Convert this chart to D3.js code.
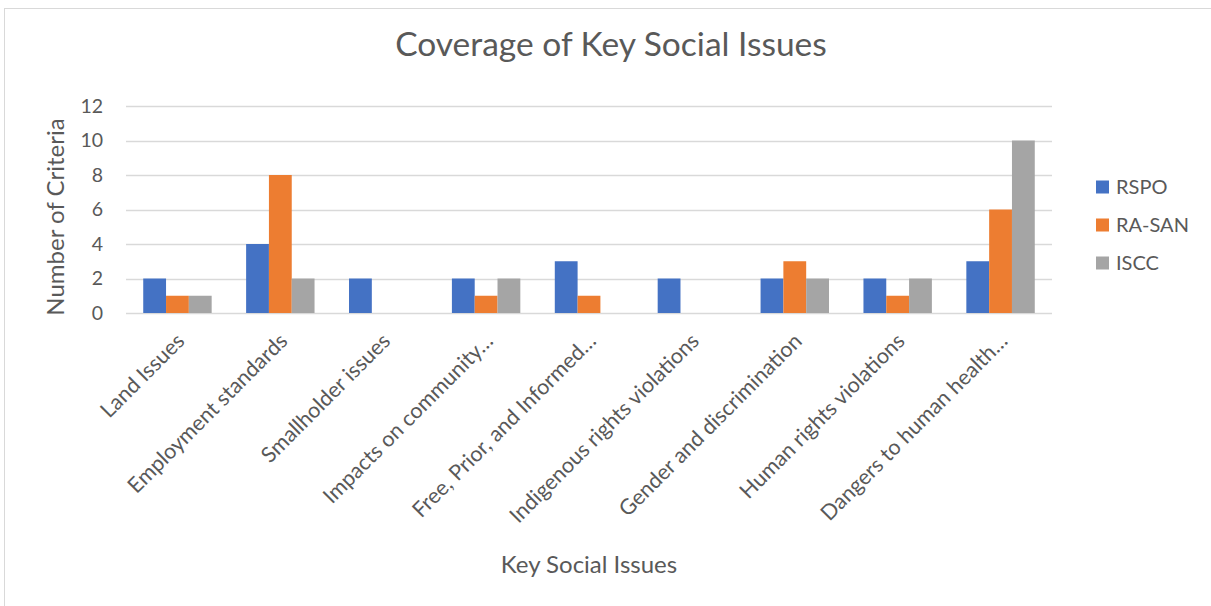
<!DOCTYPE html>
<html>
<head>
<meta charset="utf-8">
<script src="https://cdn.jsdelivr.net/npm/d3@7"></script>
<style>
  html, body { margin: 0; padding: 0; background: #fff; }
  svg { display: block; font-family: Lato, "Open Sans", sans-serif; }
</style>
</head>
<body>
<svg id="chart" width="1211" height="606"></svg>
<script>
// ----- Data -----
const categories = [
  "Land Issues",
  "Employment standards",
  "Smallholder issues",
  "Impacts on community…",
  "Free, Prior, and Informed…",
  "Indigenous rights violations",
  "Gender and discrimination",
  "Human rights violations",
  "Dangers to human health…"
];
const seriesNames = ["RSPO", "RA-SAN", "ISCC"];
const rspo  = [2, 4, 2, 2, 3, 2, 2, 2, 3];
const raSan = [1, 8, 0, 1, 1, 0, 3, 1, 6];
const iscc  = [1, 2, 0, 2, 0, 0, 2, 2, 10];
const yTicks = [0, 2, 4, 6, 8, 10, 12];

const COLORS = ["#4472C4", "#ED7D31", "#A5A5A5"];
const TEXT = "#595959";
const GRID = "#D9D9D9";

// ----- Layout -----
const W = 1211, H = 606;
const plot = { left: 126, right: 1052, top: 106, bottom: 313 };

const svg = d3.select("#chart");

// chart border (only left/top are inside the picture)
svg.append("rect")
  .attr("x", 4.5).attr("y", 8.5)
  .attr("width", W + 20).attr("height", H + 20)
  .attr("fill", "#fff")
  .attr("stroke", "#D9D9D9");

const rows = categories.map((c, i) => ({ cat: c, values: [rspo[i], raSan[i], iscc[i]] }));

const x = d3.scaleBand()
  .domain(categories)
  .range([plot.left, plot.right])
  .paddingInner(0.335)
  .paddingOuter(0.1675);

const xs = d3.scaleBand()
  .domain(seriesNames)
  .range([0, x.bandwidth()]);

const y = d3.scaleLinear()
  .domain([0, 12])
  .range([plot.bottom, plot.top]);

// gridlines
svg.append("g")
  .selectAll("line")
  .data(yTicks)
  .join("line")
  .attr("x1", plot.left).attr("x2", plot.right)
  .attr("y1", d => Math.round(y(d)) + 0.5)
  .attr("y2", d => Math.round(y(d)) + 0.5)
  .attr("stroke", GRID)
  .attr("stroke-width", 1.3);

// y axis labels
const yAxis = svg.append("g")
  .attr("transform", `translate(${plot.left - 23},0)`)
  .call(d3.axisLeft(y).tickValues(yTicks).tickSize(0).tickPadding(0));
yAxis.select(".domain").remove();
yAxis.selectAll("text")
  .attr("fill", TEXT)
  .attr("font-size", 19.5)
  .attr("font-family", "Lato, sans-serif");

// bars
const groups = svg.append("g")
  .selectAll("g")
  .data(rows)
  .join("g")
  .attr("transform", d => `translate(${x(d.cat)},0)`);

groups.selectAll("rect")
  .data(d => d.values.map((v, k) => ({ name: seriesNames[k], v, k })))
  .join("rect")
  .attr("x", d => xs(d.name))
  .attr("width", xs.bandwidth())
  .attr("y", d => y(d.v))
  .attr("height", d => y(0) - y(d.v))
  .attr("fill", d => COLORS[d.k]);

// x axis category labels (rotated)
svg.append("g")
  .selectAll("text")
  .data(categories)
  .join("text")
  .attr("transform", d => `translate(${x(d) + x.bandwidth() / 2 - 3},${plot.bottom + 18}) rotate(-45)`)
  .attr("text-anchor", "end")
  .attr("dy", "0.75em")
  .attr("fill", TEXT)
  .attr("font-size", 21.5)
  .text(d => d);

// title
svg.append("text")
  .attr("x", 611).attr("y", 56)
  .attr("text-anchor", "middle")
  .attr("fill", TEXT)
  .attr("font-size", 33.5)
  .text("Coverage of Key Social Issues");

// axis titles
svg.append("text")
  .attr("x", 589).attr("y", 573)
  .attr("text-anchor", "middle")
  .attr("fill", TEXT)
  .attr("font-size", 24)
  .text("Key Social Issues");

svg.append("text")
  .attr("transform", `translate(64,217) rotate(-90)`)
  .attr("text-anchor", "middle")
  .attr("fill", TEXT)
  .attr("font-size", 24)
  .text("Number of Criteria");

// legend
const legend = svg.append("g")
  .selectAll("g")
  .data(seriesNames)
  .join("g")
  .attr("transform", (d, i) => `translate(1096,${187 + i * 38})`);

legend.append("rect")
  .attr("x", 0).attr("y", -6.5)
  .attr("width", 13).attr("height", 13)
  .attr("fill", (d, i) => COLORS[i]);

legend.append("text")
  .attr("x", 20).attr("y", 0)
  .attr("dy", "0.35em")
  .attr("fill", TEXT)
  .attr("font-size", 20)
  .text(d => d);
</script>
</body>
</html>
